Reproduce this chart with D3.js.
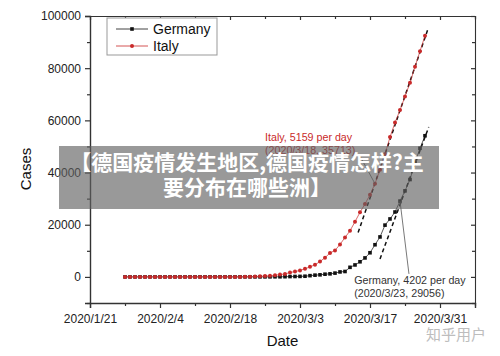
<!DOCTYPE html>
<html><head><meta charset="utf-8">
<script src="https://cdn.jsdelivr.net/npm/d3@7"></script>
<style>
html,body{margin:0;padding:0;background:#fff;}
svg{display:block;font-family:"Liberation Sans",Arial,sans-serif;}
</style></head>
<body><svg id="chart" width="500" height="356"></svg>
<script>
// ---- data ----
const startDate = "2020-01-28"; // daily series, Jan 28 .. Mar 28
const germany = [4,4,4,5,
  8,10,12,12,12,12,13,13,14,14,16,16,16,16,16,16,16,16,16,16,16,16,16,16,17,27,46,48,79,
  130,159,196,262,482,670,799,1040,1176,1457,1908,2078,3675,4585,5795,7272,9257,12327,15320,19848,22213,24873,29056,32986,37323,43938,49300,54100];
const italy = [0,0,0,2,
  2,2,2,2,2,2,3,3,3,3,3,3,3,3,3,3,3,3,3,3,20,62,155,229,322,453,655,888,1128,
  1694,2036,2502,3089,3858,4636,5883,7375,9172,10149,12462,15113,17660,21157,24747,27980,31506,35713,41035,47021,53578,59138,63927,69176,74386,80589,86498,92472];
const seriesNames = ["Germany","Italy"];
const xTickDates = ["2020-01-21","2020-02-04","2020-02-18","2020-03-03","2020-03-17","2020-03-31"];
const xMinorDates = ["2020-01-28","2020-02-11","2020-02-25","2020-03-10","2020-03-24","2020-04-07"];
const yTicks = [0,20000,40000,60000,80000,100000];
const yMinor = [-10000,10000,30000,50000,70000,90000];
const xDomain = ["2020-01-21","2020-04-07"];
const yDomain = [-10000,100000];
// fitted growth lines (date, value)
const italyFit = [["2020-03-14T15:00",17000],["2020-03-28T12:00",94500]];
const germanyFit = [["2020-03-19T00:00",6900],["2020-03-28T18:00",57500]];
const italyNote = ["Italy, 5159 per day","(2020/3/18, 35713)"];
const germanyNote = ["Germany, 4202 per day","(2020/3/23, 29056)"];
const italyPoint = ["2020-03-18",35713];
const germanyPoint = ["2020-03-23",29056];
const italyNotePos = ["2020-02-25",52000];
const germanyNotePos = ["2020-03-13T20:00",-2700];
const italyLeaderStart = ["2020-03-15",46300];
const germanyLeaderStart = ["2020-03-24T19:00",1150];
const bannerLines = ["【德国疫情发生地区,德国疫情怎样?主","要分布在哪些洲】"];
const watermark = "知乎用户";

// ---- setup ----
const parse = s => new Date(s.length > 10 ? s : s + "T00:00");
const dates = d3.timeDay.range(parse(startDate), d3.timeDay.offset(parse(startDate), germany.length));
const W = 500, H = 356;
const m = {left:90, right:25, top:16, bottom:53};
const svg = d3.select("#chart");
const x = d3.scaleTime().domain(xDomain.map(parse)).range([m.left, W - m.right]);
const y = d3.scaleLinear().domain(yDomain).range([H - m.bottom, m.top]);
const axisColor = "#333";
const red = "#c92a2a";

function styleAxis(g){
  g.select(".domain").attr("stroke", axisColor).attr("stroke-width", 1.4);
  g.selectAll(".tick line").attr("stroke", axisColor).attr("stroke-width", 1.2);
  g.selectAll(".tick text").attr("fill","#222").style("font-size","12px").style("font-family","'Liberation Sans',Arial,sans-serif");
}
const fmt = d3.timeFormat("%Y/%-m/%-d");
const gx = svg.append("g").attr("transform",`translate(0,${H-m.bottom})`)
  .call(d3.axisBottom(x).tickValues(xTickDates.map(parse)).tickFormat(fmt).tickSizeOuter(0).tickSize(5).tickPadding(4));
styleAxis(gx);
gx.selectAll(".tick text").attr("dy","0.95em");
svg.append("g").attr("transform",`translate(0,${H-m.bottom})`)
  .call(d3.axisBottom(x).tickValues(xMinorDates.map(parse)).tickFormat("").tickSizeOuter(0).tickSize(3))
  .call(g=>{styleAxis(g); g.select(".domain").remove();});
const gy = svg.append("g").attr("transform",`translate(${m.left},0)`)
  .call(d3.axisLeft(y).tickValues(yTicks).tickFormat(d3.format("d")).tickSizeOuter(0).tickSize(5).tickPadding(4));
styleAxis(gy);
svg.append("g").attr("transform",`translate(${m.left},0)`)
  .call(d3.axisLeft(y).tickValues(yMinor).tickFormat("").tickSizeOuter(0).tickSize(3))
  .call(g=>{styleAxis(g); g.select(".domain").remove();});
const gt = svg.append("g").attr("transform",`translate(0,${m.top})`)
  .call(d3.axisTop(x).tickValues(xTickDates.map(parse)).tickFormat("").tickSizeOuter(0).tickSize(-4));
styleAxis(gt); gt.select(".domain").attr("stroke-width",1.1);
svg.append("g").attr("transform",`translate(0,${m.top})`)
  .call(d3.axisTop(x).tickValues(xMinorDates.map(parse)).tickFormat("").tickSizeOuter(0).tickSize(-3))
  .call(g=>{styleAxis(g); g.select(".domain").remove();});
const gr = svg.append("g").attr("transform",`translate(${W-m.right},0)`)
  .call(d3.axisRight(y).tickValues(yTicks).tickFormat("").tickSizeOuter(0).tickSize(-4));
styleAxis(gr); gr.select(".domain").attr("stroke-width",1.1);
svg.append("g").attr("transform",`translate(${W-m.right},0)`)
  .call(d3.axisRight(y).tickValues(yMinor).tickFormat("").tickSizeOuter(0).tickSize(-3))
  .call(g=>{styleAxis(g); g.select(".domain").remove();});

svg.append("text").attr("x",(m.left + W - m.right)/2).attr("y",346).attr("text-anchor","middle")
  .style("font-size","15px").attr("fill","#111").text("Date");
svg.append("text").attr("transform","translate(31,169) rotate(-90)").attr("text-anchor","middle")
  .style("font-size","15px").attr("fill","#111").text("Cases");

const fitLine = d3.line().x(d=>x(parse(d[0]))).y(d=>y(d[1]));
[italyFit, germanyFit].forEach(f=>{
  svg.append("path").attr("d", fitLine(f)).attr("fill","none").attr("stroke","#111")
    .attr("stroke-width",1.5).attr("stroke-dasharray","4,3");
});

const line = d3.line().x((d,i)=>x(dates[i])).y(d=>y(d));
function drawSeries(vals, color, shape){
  svg.append("path").attr("d", line(vals)).attr("fill","none").attr("stroke",color).attr("stroke-width",0.7);
  if(shape==="square"){
    svg.append("g").selectAll("rect").data(vals).join("rect")
      .attr("x",(d,i)=>x(dates[i])-1.8).attr("y",d=>y(d)-1.8).attr("width",3.6).attr("height",3.6).attr("fill",color);
  } else {
    svg.append("g").selectAll("circle").data(vals).join("circle")
      .attr("cx",(d,i)=>x(dates[i])).attr("cy",d=>y(d)).attr("r",2).attr("fill",color);
  }
}
drawSeries(germany, "#111", "square");
drawSeries(italy, red, "circle");

[[italyLeaderStart, italyPoint],[germanyLeaderStart, germanyPoint]].forEach(p=>{
  svg.append("line").attr("x1",x(parse(p[0][0]))).attr("y1",y(p[0][1]))
    .attr("x2",x(parse(p[1][0]))).attr("y2",y(p[1][1]))
    .attr("stroke","#555").attr("stroke-width",0.8);
});

function note(lines, pos, color){
  const t = svg.append("text").attr("x",x(parse(pos[0]))).attr("y",y(pos[1]))
    .style("font-size","10.7px").attr("fill",color);
  lines.forEach((l,i)=>t.append("tspan").attr("x",x(parse(pos[0]))).attr("dy", i?13:0).text(l));
}
note(italyNote, italyNotePos, red);
note(germanyNote, germanyNotePos, "#333");

const lg = svg.append("g");
lg.append("rect").attr("x",107).attr("y",18).attr("width",110).attr("height",37)
  .attr("fill","#fff").attr("stroke","#999").attr("stroke-width",1);
seriesNames.forEach((n,i)=>{
  const yy = 29 + i*17, c = i ? red : "#111";
  lg.append("line").attr("x1",116).attr("x2",148).attr("y1",yy).attr("y2",yy).attr("stroke",c).attr("stroke-width",0.8);
  if(i) lg.append("circle").attr("cx",132).attr("cy",yy).attr("r",2).attr("fill",c);
  else lg.append("rect").attr("x",130.2).attr("y",yy-1.8).attr("width",3.6).attr("height",3.6).attr("fill",c);
  lg.append("text").attr("x",153).attr("y",yy+5).style("font-size","14px").attr("fill","#111").text(n);
});

svg.append("rect").attr("x",59).attr("y",146).attr("width",380).attr("height",63).attr("fill","rgba(95,95,95,0.64)");
bannerLines.forEach((l,i)=>{
  svg.append("text").attr("x",247).attr("y",170 + i*25).attr("text-anchor","middle")
    .style("font-family","'Noto Sans CJK SC',sans-serif").style("font-size","21px").style("font-weight","bold")
    .attr("fill","#fff").text(l);
});

svg.append("text").attr("x",456).attr("y",340).attr("text-anchor","middle")
  .style("font-family","'Noto Sans CJK SC',sans-serif").style("font-size","15px").attr("fill","#bdbdbd").text(watermark);
</script></body></html>
